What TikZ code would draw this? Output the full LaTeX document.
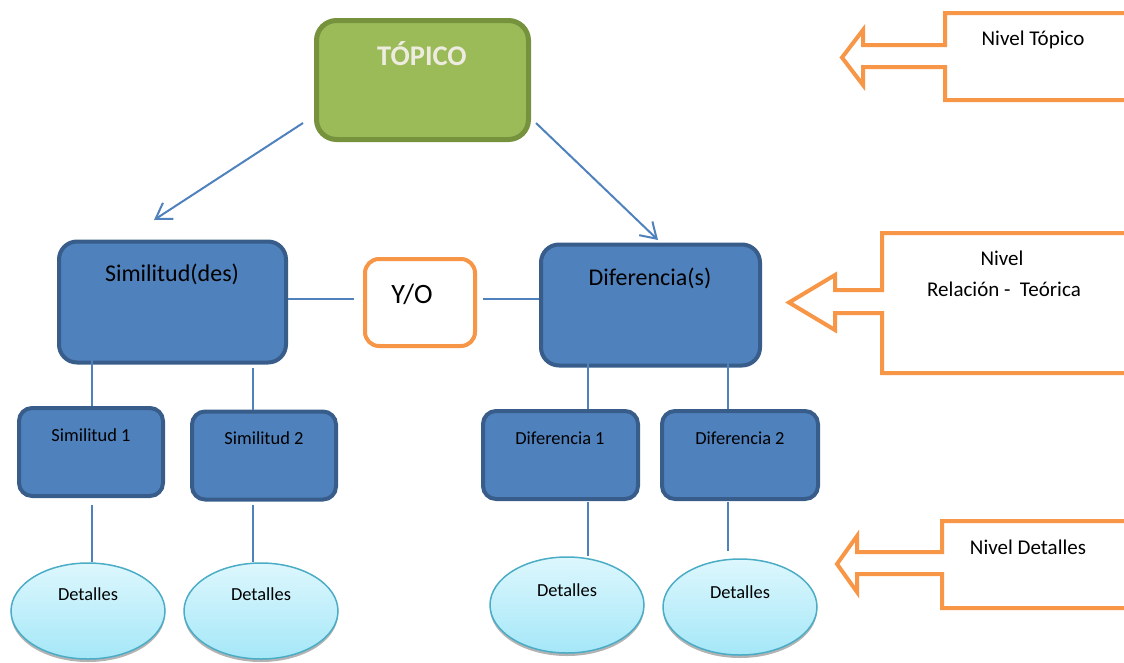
\documentclass[tikz,border=0pt]{standalone}
\usepackage{fontspec}
\setmainfont{Carlito}
\usetikzlibrary{arrows.meta,shapes.geometric,shadows}
\definecolor{topgreen}{HTML}{9BBB59}
\definecolor{topgreenline}{HTML}{76923C}
\definecolor{topictext}{HTML}{EEECE1}
\definecolor{relblue}{HTML}{4F81BD}
\definecolor{relblueline}{HTML}{385D8A}
\definecolor{lvlorange}{HTML}{F79646}
\definecolor{detfill}{HTML}{DDF7FD}
\definecolor{detfillbot}{HTML}{A5E7F8}
\definecolor{detline}{HTML}{4BACC6}

\tikzset{
	topicbox/.style={draw=topgreenline, fill=topgreen, line width=5pt, rounded corners=20pt, inner sep=0pt, minimum width=212pt, minimum height=119pt},
	mainbox/.style={draw=relblueline, fill=relblue, line width=4pt, rounded corners=18pt, inner sep=0pt, minimum height=121pt},
	subbox/.style={draw=relblueline, fill=relblue, line width=4pt, rounded corners=13pt, inner sep=0pt, minimum height=88pt},
	yobox/.style={draw=lvlorange, fill=white, line width=4pt, rounded corners=14pt, inner sep=0pt, minimum width=110pt, minimum height=87pt},
	detail/.style={ellipse, draw=detline, line width=1.5pt, top color=detfill, bottom color=detfillbot, inner sep=0pt, minimum width=154pt, minimum height=96pt,
		drop shadow={shadow xshift=0pt, shadow yshift=-3pt, fill=black!50, opacity=0.6}},
	link/.style={draw=relblue, line width=2pt},
	levelarrow/.style={draw=lvlorange, line width=4pt, line join=miter},
	txtbig/.style={font=\fontsize{24}{28}\selectfont, inner sep=0pt},
	txtsmall/.style={font=\fontsize{18.4}{22}\selectfont, inner sep=0pt},
	txtlevel/.style={font=\fontsize{21}{25}\selectfont, inner sep=0pt},
}

\begin{document}
\begin{tikzpicture}[x=1pt, y=-1pt]
		%%%%% START %%%%%
		\useasboundingbox (0, 0) rectangle (1124, 662);
		
		% boxes
		\node[topicbox] (top) at (422.5, 80) {};
		\node[mainbox, minimum width=227pt] (sim) at (172.5, 302) {};
		\node[yobox] (yo) at (420, 302.5) {};
		\node[mainbox, minimum width=219pt] (dif) at (650.5, 305) {};
		
		\node[subbox, minimum width=144pt] (s1) at (91, 452) {};
		\node[subbox, minimum width=144pt] (s2) at (264, 455.5) {};
		\node[subbox, minimum width=155pt] (d1) at (560.5, 455) {};
		\node[subbox, minimum width=156pt] (d2) at (740, 455) {};
		
		\node[detail] (e1) at (88, 611) {};
		\node[detail] (e2) at (261, 611) {};
		\node[detail] (e3) at (567, 605) {};
		\node[detail] (e4) at (740, 607) {};
		
		% texts
		\node[font=\fontsize{28.5}{32}\selectfont\bfseries, text=topictext, inner sep=0pt] (toptxt) at (422, 54) {TÓPICO};
		\node[txtbig] (simtxt) at (172, 274) {Similitud(des)};
		\node[font=\fontsize{28}{32}\selectfont, inner sep=0pt] (yotxt) at (412, 294) {Y/O};
		\node[txtbig] (diftxt) at (650, 278) {Diferencia(s)};
		\node[txtsmall] (s1txt) at (91, 435) {Similitud 1};
		\node[txtsmall] (s2txt) at (264, 438) {Similitud 2};
		\node[txtsmall] (d1txt) at (560, 438) {Diferencia 1};
		\node[txtsmall] (d2txt) at (740, 438) {Diferencia 2};
		\node[txtsmall] (e1txt) at (88, 594) {Detalles};
		\node[txtsmall] (e2txt) at (261, 594) {Detalles};
		\node[txtsmall] (e3txt) at (567, 590) {Detalles};
		\node[txtsmall] (e4txt) at (740, 592) {Detalles};
		
		% connectors
		\coordinate (topL) at (303, 123);
		\coordinate (simTip) at (154, 220);
		\coordinate (topR) at (536, 123);
		\coordinate (difTip) at (658, 240);
		\draw[link, -{Straight Barb[length=15pt, width=19pt]}] (topL) -- (simTip);
		\draw[link, -{Straight Barb[length=15pt, width=19pt]}] (topR) -- (difTip);
		
		\coordinate (yoL) at (354, 299);
		\coordinate (yoR) at (483, 299);
		\draw[link] (sim.east |- yoL) -- (yoL);
		\draw[link] (yoR) -- (yoR -| dif.west);
		
		\coordinate (s1a) at (92, 345);
		\coordinate (s2a) at (253, 368);
		\coordinate (d1a) at (588, 352);
		\coordinate (d2a) at (728, 363);
		\draw[link] (s1a) -- (s1a |- s1.north);
		\draw[link] (s2a) -- (s2a |- s2.north);
		\draw[link] (d1a) -- (d1a |- d1.north);
		\draw[link] (d2a) -- (d2a |- d2.north);
		
		\coordinate (d2b) at (728, 551);
		\draw[link] (s1a |- s1.south) ++(0, 7) -- (s1a |- e1.north);
		\draw[link] (s2a |- s2.south) ++(0, 3) -- (s2a |- e2.north);
		\draw[link] (d1a |- d1.south) ++(0, 1) -- (d1a |- e3.north);
		\draw[link] (d2a |- d2.south) ++(0, 1) -- (d2b);
		
		% level arrows
		\draw[levelarrow] (1130, 13) -- (945, 13) -- (945, 45) -- (863, 45) -- (863, 30) -- (842, 57.5) -- (863, 85) -- (863, 67) -- (945, 67) -- (945, 100) -- (1130, 100);
		\draw[levelarrow] (1130, 233) -- (882, 233) -- (882, 290) -- (835, 290) -- (835, 275) -- (789, 302.5) -- (835, 330) -- (835, 313) -- (882, 313) -- (882, 373) -- (1130, 373);
		\draw[levelarrow] (1130, 521) -- (942, 521) -- (942, 552) -- (857, 552) -- (857, 536) -- (837, 564) -- (857, 592) -- (857, 574) -- (942, 574) -- (942, 608) -- (1130, 608);
		
		\node[txtlevel] (lvltop) at (1033, 40) {Nivel Tópico};
		\node[txtlevel] (lvlrel) at (1002, 258) {Nivel};
		\node[txtlevel] (lvlrelb) at (1004, 289) {Relación -\ \ Teórica};
		\node[txtlevel] (lvldet) at (1028, 547) {Nivel Detalles};
		
		%%%%% END %%%%%
	\end{tikzpicture}
\end{document}
